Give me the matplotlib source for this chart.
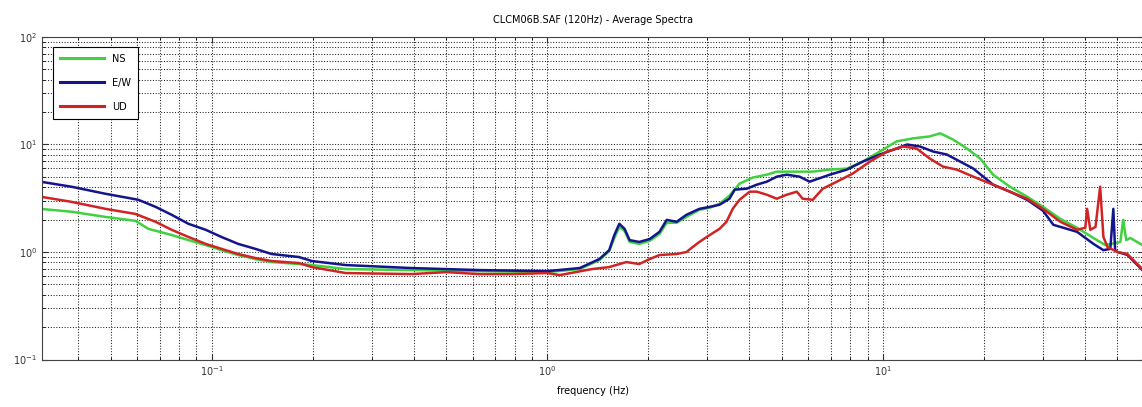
import numpy as np
import matplotlib
matplotlib.use("Agg")
import matplotlib.pyplot as plt
from matplotlib.ticker import LogLocator, LogFormatterMathtext, NullFormatter

# average spectra, CLCM06B station (120 Hz sampling)
freq_ns = [0.0309, 0.0382, 0.0483, 0.0593, 0.0649, 0.0760, 0.0853, 0.0960, 0.107, 0.120,
           0.135, 0.151, 0.182, 0.199, 0.251, 0.395, 0.627, 1.0, 1.25, 1.43,
           1.53, 1.585, 1.64, 1.70, 1.76, 1.88, 2.02, 2.16, 2.27, 2.43,
           2.60, 2.84, 3.05, 3.26, 3.49, 3.74, 4.09, 4.51, 4.83, 5.39,
           6.18, 6.95, 7.81, 8.71, 9.79, 11.0, 12.3, 13.8, 14.8, 16.2,
           17.8, 19.5, 21.3, 23.9, 26.9, 30.0, 33.8, 37.9, 42.4, 46.0,
           51.0, 52.0, 53.1, 54.6, 59.3]
amp_ns = [2.52, 2.37, 2.12, 1.95, 1.64, 1.44, 1.29, 1.16, 1.04, 0.937,
          0.86, 0.806, 0.773, 0.756, 0.694, 0.679, 0.664, 0.650, 0.694, 0.841,
          1.02, 1.35, 1.71, 1.57, 1.24, 1.19, 1.27, 1.47, 1.87, 1.87,
          2.12, 2.47, 2.58, 2.81, 3.34, 4.32, 4.92, 5.24, 5.59, 5.59,
          5.59, 5.84, 5.97, 6.93, 8.61, 10.7, 11.4, 11.9, 12.7, 11.1,
          9.18, 7.40, 5.24, 4.05, 3.27, 2.63, 2.03, 1.68, 1.35, 1.16,
          1.24, 1.99, 1.29, 1.35, 1.16]

freq_ew = [0.0309, 0.0382, 0.0483, 0.0605, 0.0681, 0.0760, 0.0853, 0.0960, 0.107, 0.120,
           0.135, 0.151, 0.182, 0.199, 0.251, 0.395, 0.627, 1.0, 1.25, 1.43,
           1.53, 1.585, 1.64, 1.70, 1.76, 1.88, 2.02, 2.16, 2.27, 2.43,
           2.60, 2.84, 3.05, 3.26, 3.49, 3.62, 3.93, 4.21, 4.51, 4.83,
           5.17, 5.65, 6.05, 6.95, 7.81, 8.71, 9.79, 11.0, 11.8, 12.9,
           14.1, 15.5, 17.0, 18.6, 21.3, 23.9, 26.9, 30.0, 32.2, 37.9,
           42.4, 45.4, 47.6, 48.6, 49.2, 50.0, 53.5, 59.3]
amp_ew = [4.51, 4.05, 3.48, 3.06, 2.63, 2.22, 1.83, 1.61, 1.38, 1.19,
          1.07, 0.958, 0.898, 0.824, 0.756, 0.709, 0.679, 0.664, 0.709, 0.86,
          1.04, 1.44, 1.83, 1.64, 1.29, 1.24, 1.32, 1.54, 1.99, 1.91,
          2.22, 2.52, 2.63, 2.75, 3.13, 3.80, 3.88, 4.23, 4.51, 5.02,
          5.24, 5.02, 4.51, 5.24, 5.84, 6.93, 8.07, 9.18, 10.0, 9.58,
          8.61, 8.07, 6.93, 5.97, 4.23, 3.64, 3.06, 2.42, 1.79, 1.54,
          1.19, 1.04, 1.07, 2.52, 1.04, 1.0, 0.94, 0.68]

freq_ud = [0.0309, 0.0382, 0.0483, 0.0593, 0.0681, 0.0760, 0.0853, 0.0960, 0.107, 0.120,
           0.135, 0.151, 0.182, 0.199, 0.251, 0.395, 0.500, 0.627, 0.787, 1.0,
           1.09, 1.36, 1.53, 1.72, 1.88, 2.02, 2.16, 2.43, 2.60, 2.71,
           2.84, 3.05, 3.26, 3.42, 3.57, 3.74, 4.01, 4.21, 4.51, 4.83,
           5.17, 5.54, 5.77, 6.18, 6.62, 7.29, 8.13, 9.15, 10.3, 11.5,
           12.6, 13.8, 15.1, 16.6, 18.6, 21.3, 23.9, 26.9, 30.0, 33.8,
           37.9, 40.1, 40.6, 41.5, 43.0, 44.4, 45.4, 46.7, 50.0, 53.5,
           59.3]
amp_ud = [3.27, 2.93, 2.52, 2.26, 1.91, 1.61, 1.38, 1.19, 1.07, 0.958,
          0.879, 0.824, 0.789, 0.724, 0.637, 0.623, 0.650, 0.623, 0.623, 0.637,
          0.610, 0.694, 0.724, 0.806, 0.773, 0.86, 0.937, 0.958, 1.0, 1.11,
          1.24, 1.44, 1.64, 1.91, 2.52, 3.06, 3.64, 3.64, 3.41, 3.13,
          3.41, 3.64, 3.13, 3.06, 3.88, 4.51, 5.36, 6.93, 8.61, 9.58,
          9.18, 7.40, 6.23, 5.84, 5.02, 4.23, 3.64, 3.13, 2.52, 1.91,
          1.61, 1.68, 2.52, 1.61, 1.71, 4.05, 1.38, 1.11, 1.0, 0.958,
          0.694]

labels = ['NS', 'E/W', 'UD']
colors = ['#3fd23f', '#14148c', '#d02424']

fig = plt.figure(figsize=(11.42, 4.07), dpi=100)
ax = fig.add_axes([0.0368, 0.1167, 0.9650, 0.7924])

ax.plot(freq_ns, amp_ns, color=colors[0], lw=1.8, label=labels[0])
ax.plot(freq_ew, amp_ew, color=colors[1], lw=1.8, label=labels[1])
ax.plot(freq_ud, amp_ud, color=colors[2], lw=1.8, label=labels[2])

ax.set_xscale('log')
ax.set_yscale('log')
ax.set_xlim(1 / 32, 60)
ax.set_ylim(0.1, 100)

ax.xaxis.set_major_locator(LogLocator(base=10))
ax.xaxis.set_minor_locator(LogLocator(base=10, subs=np.arange(2, 10)))
ax.yaxis.set_major_locator(LogLocator(base=10))
ax.yaxis.set_minor_locator(LogLocator(base=10, subs=np.arange(2, 10)))
ax.xaxis.set_major_formatter(LogFormatterMathtext())
ax.yaxis.set_major_formatter(LogFormatterMathtext())
ax.xaxis.set_minor_formatter(NullFormatter())
ax.yaxis.set_minor_formatter(NullFormatter())

ax.grid(True, which='both', linestyle=':', color='#222222', linewidth=0.75)
ax.tick_params(which='both', direction='in', top=True, right=True)
ax.tick_params(which='major', length=4, labelsize=7, colors='#333333')
ax.tick_params(which='minor', length=2)
for sp in ax.spines.values():
    sp.set_color('#444444')
    sp.set_linewidth(0.8)

ax.set_title('CLCM06B.SAF (120Hz) - Average Spectra', fontsize=7, pad=10)
ax.set_xlabel('frequency (Hz)', fontsize=7, labelpad=6)

leg = ax.legend(loc='upper left', bbox_to_anchor=(0.006, 0.985), fontsize=7,
                fancybox=False, framealpha=1, edgecolor='black',
                handlelength=4.5, borderpad=0.7, labelspacing=1.45)
leg.get_frame().set_linewidth(0.8)
for line in leg.get_lines():
    line.set_linewidth(2.2)

fig.savefig('out.png', dpi=100)
